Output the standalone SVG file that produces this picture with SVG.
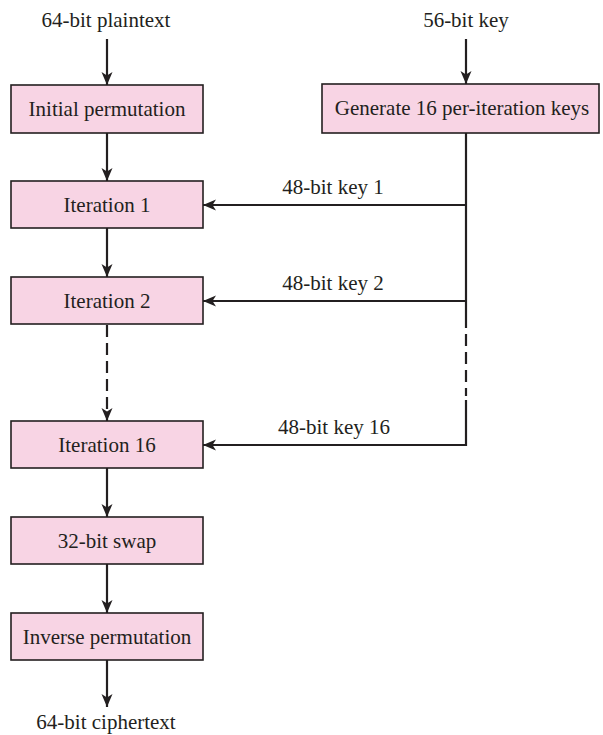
<svg xmlns="http://www.w3.org/2000/svg" width="603" height="735" viewBox="0 0 603 735">
  <style>
    .box { fill: #f8d4e4; stroke: #231f20; stroke-width: 1.6; }
    .lbl { font-family: "Liberation Serif", "Times New Roman", serif; font-size: 21px; fill: #231f20; text-anchor: middle; }
    .wire { fill: none; stroke: #231f20; stroke-width: 2.2; }
    .dash { stroke-dasharray: 12 6; }
  </style>
  <defs>
    <marker id="arrow" markerUnits="userSpaceOnUse" markerWidth="16" markerHeight="14" viewBox="-14 -7 16 14" refX="0" refY="0" orient="auto">
      <path d="M0,0 L-13,-5.5 L-9.5,0 L-13,5.5 Z" fill="#231f20"/>
    </marker>
  </defs>

  <rect width="603" height="735" fill="#ffffff"/>

  <!-- input / output labels -->
  <text class="lbl" x="106" y="27">64-bit plaintext</text>
  <text class="lbl" x="466" y="27">56-bit key</text>
  <text class="lbl" x="106" y="729">64-bit ciphertext</text>

  <!-- connectors -->
  <g id="connectors">
    <line class="wire" x1="107" y1="39" x2="107" y2="85" marker-end="url(#arrow)"/>
    <line class="wire" x1="466" y1="39" x2="466" y2="84" marker-end="url(#arrow)"/>
    <line class="wire" x1="107" y1="133" x2="107" y2="181" marker-end="url(#arrow)"/>
    <line class="wire" x1="107" y1="228" x2="107" y2="277" marker-end="url(#arrow)"/>
    <line class="wire dash" x1="107" y1="325" x2="107" y2="421" marker-end="url(#arrow)"/>
    <line class="wire" x1="107" y1="468" x2="107" y2="517" marker-end="url(#arrow)"/>
    <line class="wire" x1="107" y1="564" x2="107" y2="613" marker-end="url(#arrow)"/>
    <line class="wire" x1="107" y1="660" x2="107" y2="707" marker-end="url(#arrow)"/>

    <!-- key schedule bus -->
    <line class="wire" x1="466" y1="133" x2="466" y2="328"/>
    <line class="wire dash" x1="466" y1="334" x2="466" y2="396"/>
    <polyline class="wire" points="466,400 466,445 203,445" marker-end="url(#arrow)"/>
    <line class="wire" x1="466" y1="205" x2="203" y2="205" marker-end="url(#arrow)"/>
    <line class="wire" x1="466" y1="301" x2="203" y2="301" marker-end="url(#arrow)"/>

    <text class="lbl" x="333" y="194">48-bit key 1</text>
    <text class="lbl" x="333" y="290">48-bit key 2</text>
    <text class="lbl" x="334" y="434">48-bit key 16</text>
  </g>

  <!-- nodes -->
  <g id="initial-permutation">
    <rect class="box" x="11" y="85" width="192" height="48"/>
    <text class="lbl" x="107" y="116">Initial permutation</text>
  </g>
  <g id="key-generator">
    <rect class="box" x="322" y="84" width="277" height="49"/>
    <text class="lbl" x="462" y="115">Generate 16 per-iteration keys</text>
  </g>
  <g id="iteration-1">
    <rect class="box" x="11" y="181" width="192" height="47"/>
    <text class="lbl" x="107" y="212">Iteration 1</text>
  </g>
  <g id="iteration-2">
    <rect class="box" x="11" y="277" width="192" height="47"/>
    <text class="lbl" x="107" y="308">Iteration 2</text>
  </g>
  <g id="iteration-16">
    <rect class="box" x="11" y="421" width="192" height="47"/>
    <text class="lbl" x="107" y="452">Iteration 16</text>
  </g>
  <g id="swap">
    <rect class="box" x="11" y="517" width="192" height="47"/>
    <text class="lbl" x="107" y="548">32-bit swap</text>
  </g>
  <g id="inverse-permutation">
    <rect class="box" x="11" y="613" width="192" height="47"/>
    <text class="lbl" x="107" y="644">Inverse permutation</text>
  </g>
</svg>
